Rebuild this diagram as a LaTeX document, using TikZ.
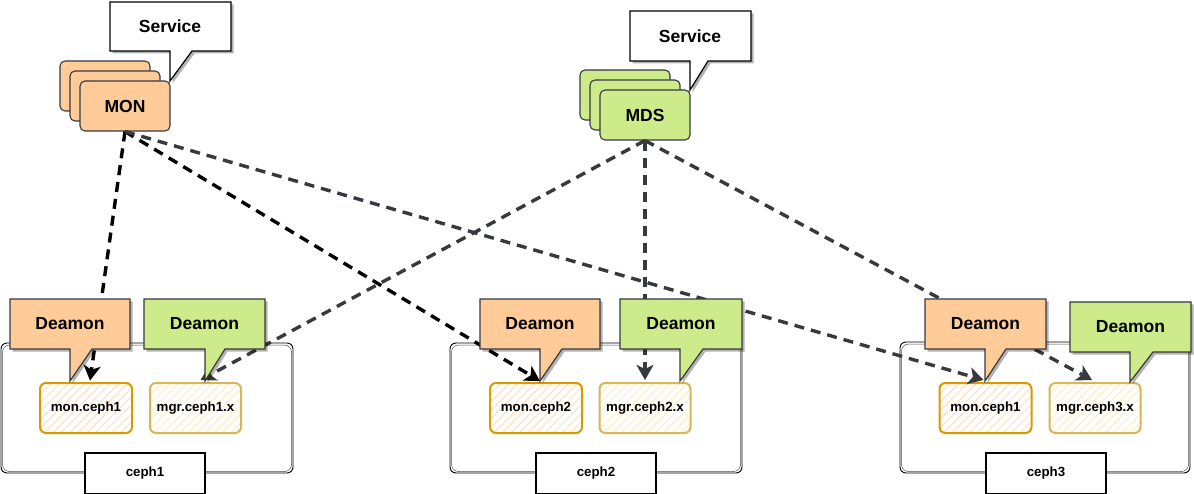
\documentclass[tikz,border=0pt]{standalone}
\usepackage{fontspec}
\setmainfont{Liberation Sans}
\usetikzlibrary{calc,arrows.meta,patterns.meta,shadows}
\definecolor{orangef}{HTML}{FFCC99}
\definecolor{greenf}{HTML}{CDEB8B}
\definecolor{darkst}{HTML}{36393D}
\definecolor{monst}{HTML}{D79B00}
\definecolor{mgrst}{HTML}{D6B656}
\definecolor{monhatch}{HTML}{FFD9B3}
\definecolor{mgrhatch}{HTML}{FFEBB8}
\tikzset{
  biglbl/.style={font=\bfseries\fontsize{17.5}{20}\selectfont, inner sep=0pt},
  smalllbl/.style={font=\bfseries\fontsize{13.3}{16}\selectfont, inner sep=0pt},
  card/.style={draw=darkst, line width=1.1pt, rounded corners=5pt, minimum width=90pt, minimum height=50pt, inner sep=0pt, biglbl},
  shadowed/.style={drop shadow={shadow xshift=2.5pt, shadow yshift=-2.5pt, opacity=0.3, fill=black}},
  whitecall/.style={fill=white, draw=black, line width=1.2pt, shadowed},
  orangecall/.style={fill=orangef, draw=darkst, line width=1.2pt, shadowed},
  greencall/.style={fill=greenf, draw=darkst, line width=1.2pt, shadowed},
  hostbox/.style={draw=black, line width=0.9pt, rounded corners=6pt, fill=white},
  hostsketch/.style={draw=black!70, line width=0.5pt, rounded corners=7pt},
  tagbox/.style={draw=black, line width=2pt, fill=white, minimum width=120pt, minimum height=41pt, inner sep=0pt},
  monbox/.style={draw=monst, line width=2pt, rounded corners=6pt, minimum width=92pt, minimum height=50pt, inner sep=0pt,
     preaction={fill=white}, pattern={Lines[angle=45,distance=6pt,line width=0.8pt]}, pattern color=monhatch},
  mgrbox/.style={draw=mgrst, line width=2pt, rounded corners=6pt, minimum width=91pt, minimum height=50pt, inner sep=0pt,
     preaction={fill=white}, pattern={Lines[angle=45,distance=6pt,line width=0.8pt]}, pattern color=mgrhatch},
  conn/.style={line width=3.4pt, dash pattern=on 10pt off 7pt, -{Stealth[length=15pt,width=17pt,inset=4pt]}},
  blackconn/.style={conn, draw=black},
  grayconn/.style={conn, draw=darkst},
}
\begin{document}
\begin{tikzpicture}[x=1pt,y=-1pt]
\useasboundingbox (0,0) rectangle (1194,494);

% host boxes
\path[hostbox] (1,343) rectangle (293,473);
\path[hostsketch] (2.5,345) rectangle (291.5,471.5);
\path[hostbox] (450,343) rectangle (742,473);
\path[hostsketch] (451.5,345) rectangle (740.5,471.5);
\path[hostbox] (900,342) rectangle (1190,473);
\path[hostsketch] (901.5,344) rectangle (1188.5,471.5);

% host tags
\node[tagbox, smalllbl] (h1) at (145,473.5) {ceph1};
\node[tagbox, smalllbl] (h2) at (596,473.5) {ceph2};
\node[tagbox, smalllbl] (h3) at (1046,473.5) {ceph3};

% daemon boxes
\node[monbox, smalllbl] (m1) at (86,408) {mon.ceph1};
\node[mgrbox, smalllbl] (g1) at (195.5,408) {mgr.ceph1.x};
\node[monbox, smalllbl] (m2) at (536,408) {mon.ceph2};
\node[mgrbox, smalllbl] (g2) at (645,408) {mgr.ceph2.x};
\node[monbox, smalllbl] (m3) at (985.5,408) {mon.ceph1};
\node[mgrbox, smalllbl] (g3) at (1095,408) {mgr.ceph3.x};

% MON stack
\node[card, fill=orangef] (monb) at (105,86) {};
\node[card, fill=orangef] (monm) at (115,96) {};
\node[card, fill=orangef] (mon) at (125,106) {MON};
\path[whitecall] (110,2) -- (231,2) -- (231,51) -- (192,51) -- (170,81) -- (170,51) -- (110,51) -- cycle;
\node[biglbl] (svc1) at (170,26) {Service};

% MDS stack
\node[card, fill=greenf] (mdsb) at (625,95) {};
\node[card, fill=greenf] (mdsm) at (635,105) {};
\node[card, fill=greenf] (mds) at (645,115) {MDS};
\path[whitecall] (630,11) -- (751,11) -- (751,61) -- (708,61) -- (690,90) -- (690,61) -- (630,61) -- cycle;
\node[biglbl] (svc2) at (690,36) {Service};

% connectors
\draw[blackconn] (mon.south) -- ($(m1.north)+(4,-2)$);
\draw[blackconn] (mon.south) -- ($(m2.north)+(4,-1)$);
\draw[grayconn] (mon.south) -- ($(m3.north)+(-2,-2)$);
\draw[grayconn] (mds.south) -- ($(g1.north)+(5,-2)$);
\draw[grayconn] (mds.south) -- ($(g2.north)+(0,-2)$);
\draw[grayconn] (mds.south) -- ($(g3.north)+(-3,-2)$);

% Deamon callouts
\path[orangecall] (10,299) -- (130,299) -- (130,349) -- (92,349) -- (70,381) -- (70,349) -- (10,349) -- cycle;
\node[biglbl] (d1o) at (70,324) {Deamon};
\path[greencall] (144,299) -- (265,299) -- (265,349) -- (225,349) -- (205,381) -- (205,349) -- (144,349) -- cycle;
\node[biglbl] (d1g) at (204.5,324) {Deamon};

\path[orangecall] (480,299) -- (600,299) -- (600,349) -- (562,349) -- (540,381) -- (540,349) -- (480,349) -- cycle;
\node[biglbl] (d2o) at (540,324) {Deamon};
\path[greencall] (620,299) -- (742,299) -- (742,349) -- (703,349) -- (680,381) -- (680,349) -- (620,349) -- cycle;
\node[biglbl] (d2g) at (681,324) {Deamon};

\path[orangecall] (925,299) -- (1046,299) -- (1046,349) -- (1006,349) -- (985,381) -- (985,349) -- (925,349) -- cycle;
\node[biglbl] (d3o) at (985.5,324) {Deamon};
\path[greencall] (1070,302) -- (1191,302) -- (1191,352) -- (1153,352) -- (1130,382) -- (1130,352) -- (1070,352) -- cycle;
\node[biglbl] (d3g) at (1130.5,327) {Deamon};
\end{tikzpicture}
\end{document}
